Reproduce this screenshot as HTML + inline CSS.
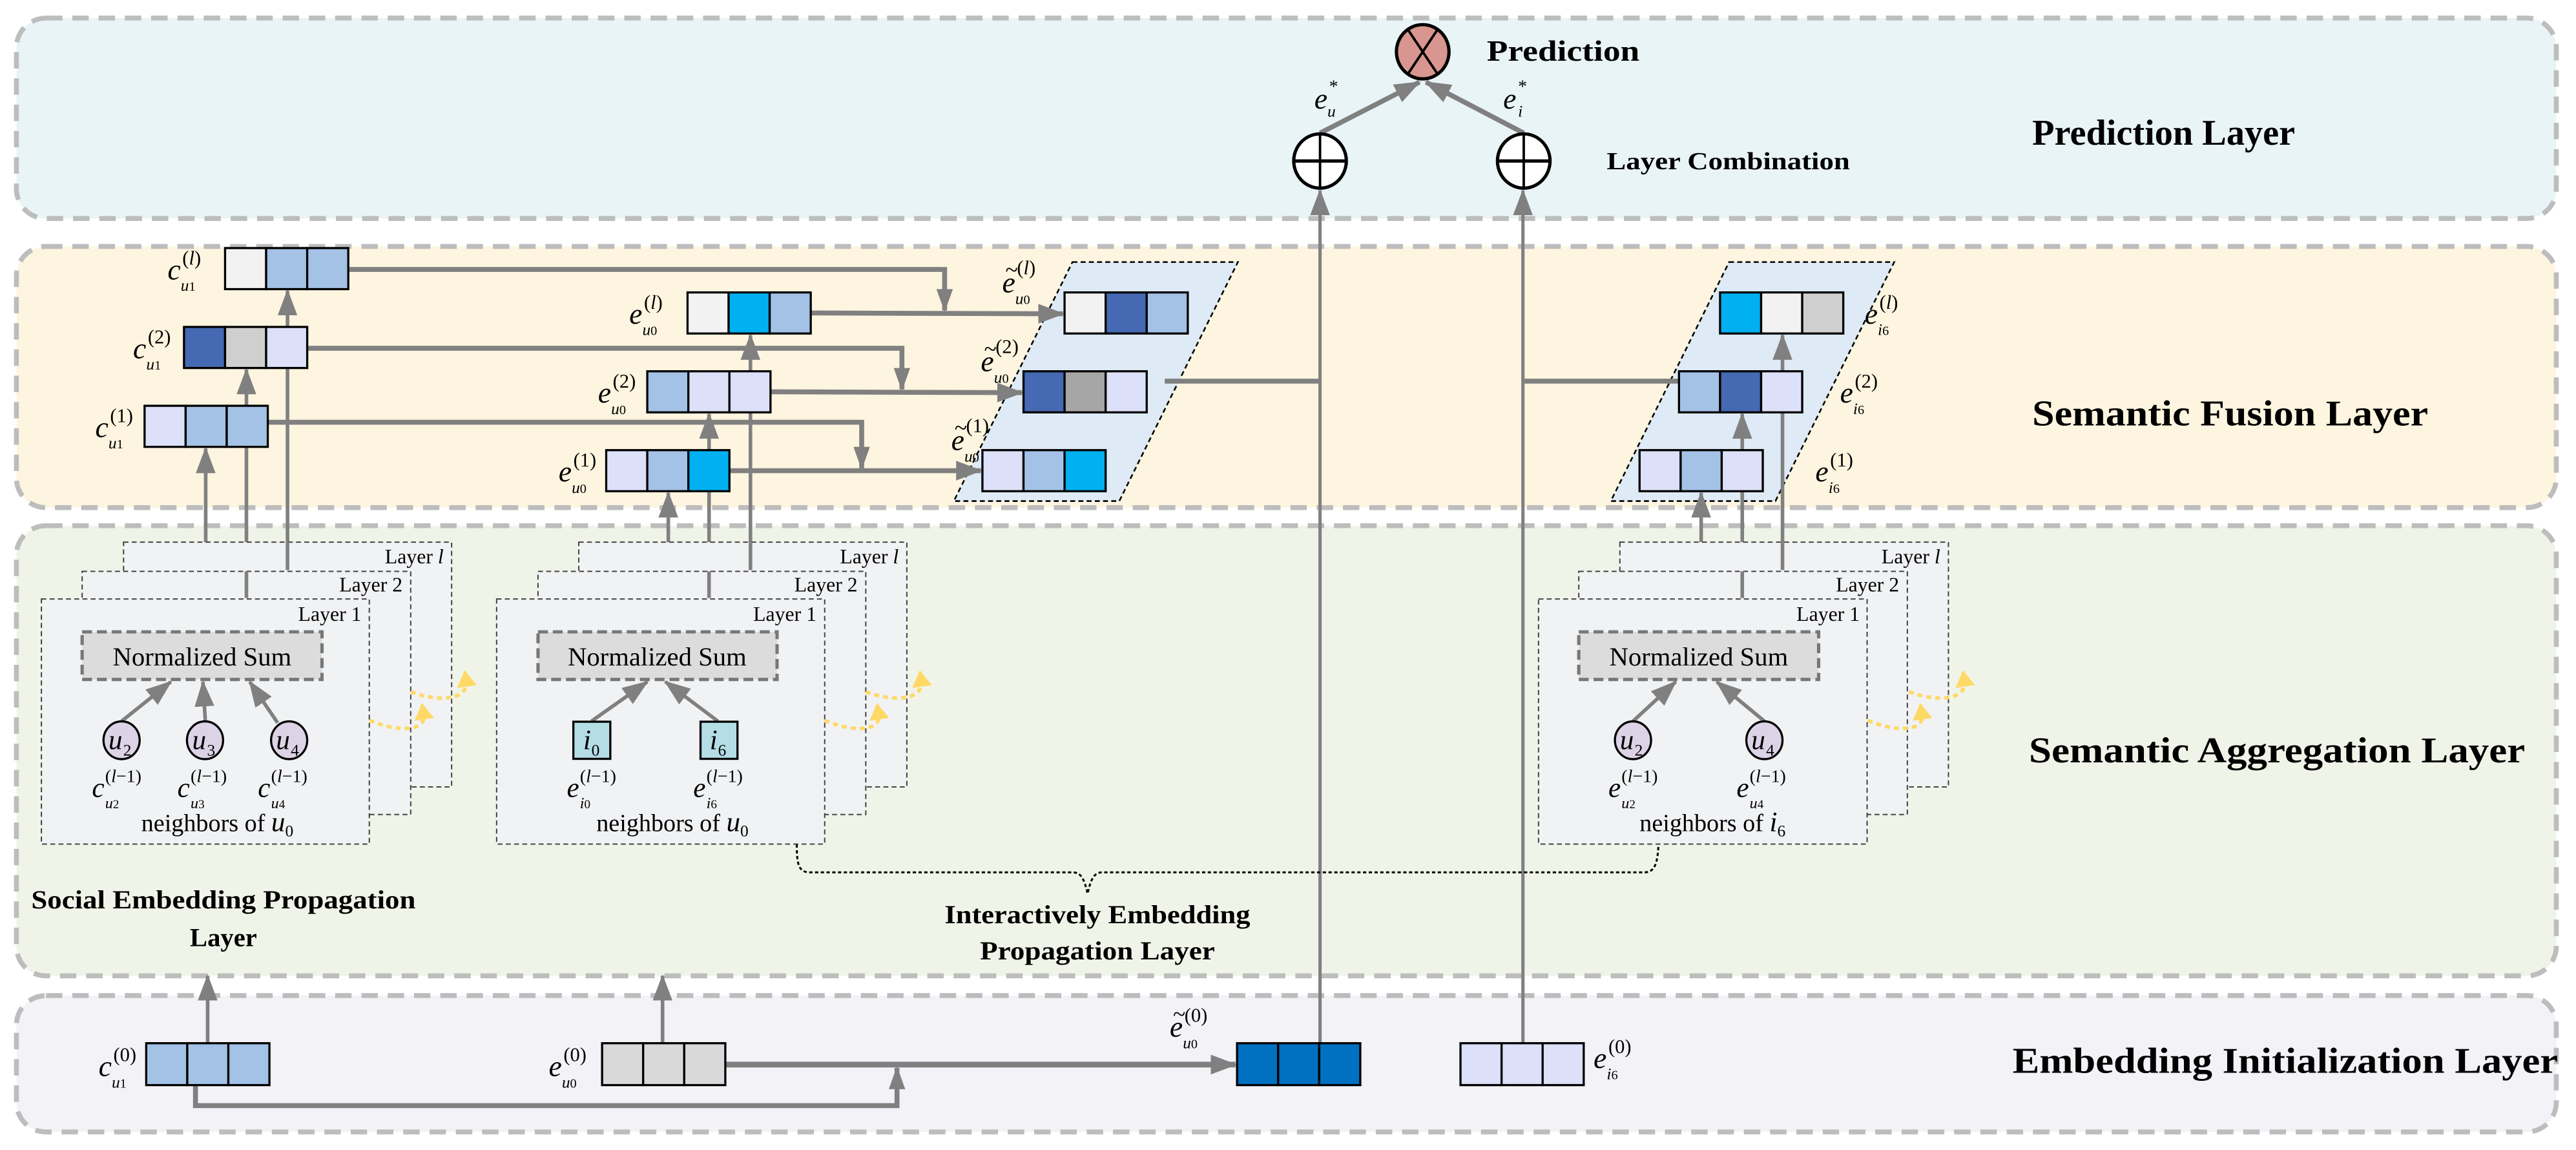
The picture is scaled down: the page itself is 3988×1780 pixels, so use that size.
<!DOCTYPE html>
<html><head><meta charset="utf-8"><style>
html,body{margin:0;padding:0;background:#fff;}
svg{display:block;}
text{font-family:"Liberation Serif",serif;}
</style></head><body>
<svg width="3988" height="1780" viewBox="0 0 1568 700" preserveAspectRatio="none" xmlns="http://www.w3.org/2000/svg">
<defs>
<marker id="ah" markerUnits="userSpaceOnUse" markerWidth="16" markerHeight="12" viewBox="0 0 16 12" refX="15" refY="6" orient="auto"><path d="M0,0 L16,6 L0,12 z" fill="#808080"/></marker>
<marker id="ahs" markerUnits="userSpaceOnUse" markerWidth="14" markerHeight="10" viewBox="0 0 14 10" refX="13" refY="5" orient="auto"><path d="M0,0 L14,5 L0,10 z" fill="#808080"/></marker>
<marker id="ay" markerUnits="userSpaceOnUse" markerWidth="10" markerHeight="12" viewBox="0 0 10 12" refX="9" refY="6" orient="auto"><path d="M0,0 L10,6 L0,12 z" fill="#ffd966"/></marker>
</defs>

<g stroke="#bdbdbd" stroke-width="3" stroke-dasharray="10,6">
<rect x="10" y="11" width="1546" height="122" rx="18" fill="#e9f4f7"/>
<rect x="10" y="150" width="1546" height="159" rx="18" fill="#fdf5df"/>
<rect x="10" y="320" width="1546" height="274" rx="18" fill="#f0f4e8"/>
<rect x="10" y="606" width="1546" height="83" rx="18" fill="#f2f2f7"/>
</g>

<g font-weight="bold" font-size="22">
<text x="1237" y="88" textLength="160" lengthAdjust="spacingAndGlyphs">Prediction Layer</text>
<text x="1237" y="259" textLength="241" lengthAdjust="spacingAndGlyphs">Semantic Fusion Layer</text>
<text x="1235" y="464" textLength="302" lengthAdjust="spacingAndGlyphs">Semantic Aggregation Layer</text>
<text x="1225" y="653" textLength="332" lengthAdjust="spacingAndGlyphs">Embedding Initialization Layer</text>
</g>

<g stroke="#808080" stroke-width="3" fill="none">
<line x1="803.5" y1="81" x2="864" y2="50" marker-end="url(#ah)"/>
<line x1="927.5" y1="81" x2="868" y2="50" marker-end="url(#ah)"/>
<line x1="803.5" y1="635" x2="803.5" y2="116" stroke-width="2" marker-end="url(#ah)"/>
<line x1="927" y1="635" x2="927" y2="116" stroke-width="2" marker-end="url(#ah)"/>
</g>
<ellipse cx="866" cy="31.5" rx="16" ry="16.5" fill="#d9958f" stroke="#000" stroke-width="2"/>
<line x1="857" y1="18" x2="875" y2="45" stroke="#000" stroke-width="1.5"/>
<line x1="875" y1="18" x2="857" y2="45" stroke="#000" stroke-width="1.5"/>
<g fill="#fff" stroke="#000" stroke-width="2">
<ellipse cx="803.5" cy="98" rx="16" ry="16.5"/>
<ellipse cx="927.5" cy="98" rx="16" ry="16.5"/>
</g>
<g stroke="#000" stroke-width="1.5">
<line x1="803.5" y1="81.5" x2="803.5" y2="114.5"/><line x1="787.5" y1="98" x2="819.5" y2="98" stroke-width="2"/>
<line x1="927.5" y1="81.5" x2="927.5" y2="114.5"/><line x1="911.5" y1="98" x2="943.5" y2="98" stroke-width="2"/>
</g>
<text x="905" y="37" font-size="18" font-weight="bold" textLength="93" lengthAdjust="spacingAndGlyphs">Prediction</text>
<text x="978" y="103" font-size="15" font-weight="bold" textLength="148" lengthAdjust="spacingAndGlyphs">Layer Combination</text>
<text x="800" y="66" font-size="18" font-style="italic">e</text><text x="809" y="56" font-size="11">*</text><text x="808" y="71" font-size="10" font-style="italic">u</text>
<text x="915" y="66" font-size="18" font-style="italic">e</text><text x="924" y="56" font-size="11">*</text><text x="924" y="71" font-size="10" font-style="italic">i</text>

<polygon points="652.8,159.5 753.5,159.5 681.3,305 580.6,305" fill="#deeaf5" stroke="#000" stroke-width="1" stroke-dasharray="3,2"/>
<polygon points="1052.5,159.5 1153,159.5 1080.7,305 980.5,305" fill="#deeaf5" stroke="#000" stroke-width="1" stroke-dasharray="3,2"/>

<g stroke="#808080" stroke-width="3" fill="none">
<polyline points="212,164 575,164 575,189" marker-end="url(#ahs)"/>
<line x1="493" y1="190.5" x2="647" y2="191" marker-end="url(#ah)"/>
<polyline points="187,212 549,212 549,237" marker-end="url(#ahs)"/>
<line x1="469" y1="238.5" x2="622" y2="239" marker-end="url(#ah)"/>
<polyline points="163,257 524.5,257 524.5,285" marker-end="url(#ahs)"/>
<line x1="444" y1="286.5" x2="597" y2="286.5" marker-end="url(#ah)"/>
<line x1="709" y1="232" x2="803.5" y2="232"/>
<line x1="927" y1="232" x2="1024" y2="232"/>
</g>
<g stroke="#808080" stroke-width="2.2" fill="none">
<line x1="125.2" y1="364.6" x2="125.2" y2="273" marker-end="url(#ah)"/>
<line x1="150" y1="347.8" x2="150" y2="272"/><line x1="150" y1="247" x2="150" y2="225" marker-end="url(#ah)"/>
<line x1="175" y1="330" x2="175" y2="224"/><line x1="175" y1="199" x2="175" y2="177" marker-end="url(#ah)"/>
<line x1="406.8" y1="364.6" x2="406.8" y2="300" marker-end="url(#ah)"/>
<line x1="431.6" y1="347.8" x2="431.6" y2="299"/><line x1="431.6" y1="274" x2="431.6" y2="252" marker-end="url(#ah)"/>
<line x1="456.8" y1="330" x2="456.8" y2="251"/><line x1="456.8" y1="226" x2="456.8" y2="204" marker-end="url(#ah)"/>
<line x1="1035.5" y1="364.6" x2="1035.5" y2="300" marker-end="url(#ah)"/>
<line x1="1060.5" y1="347.8" x2="1060.5" y2="299"/><line x1="1060.5" y1="274" x2="1060.5" y2="252" marker-end="url(#ah)"/>
<line x1="1085" y1="330" x2="1085" y2="251"/><line x1="1085" y1="226" x2="1085" y2="204" marker-end="url(#ah)"/>
</g>

<g stroke="#000" stroke-width="1.3">
<rect x="137" y="151" width="25" height="25" fill="#f2f2f2"/><rect x="162" y="151" width="25" height="25" fill="#a4c2e6"/><rect x="187" y="151" width="25" height="25" fill="#a4c2e6"/>
<rect x="112" y="199" width="25" height="25" fill="#4569b2"/><rect x="137" y="199" width="25" height="25" fill="#cfcfcf"/><rect x="162" y="199" width="25" height="25" fill="#dce0f8"/>
<rect x="88" y="247" width="25" height="25" fill="#dce0f8"/><rect x="113" y="247" width="25" height="25" fill="#a4c2e6"/><rect x="138" y="247" width="25" height="25" fill="#a4c2e6"/>
<rect x="418.5" y="178" width="25" height="25" fill="#f2f2f2"/><rect x="443.5" y="178" width="25" height="25" fill="#00b0f0"/><rect x="468.5" y="178" width="25" height="25" fill="#a4c2e6"/>
<rect x="394" y="226" width="25" height="25" fill="#a4c2e6"/><rect x="419" y="226" width="25" height="25" fill="#dce0f8"/><rect x="444" y="226" width="25" height="25" fill="#dce0f8"/>
<rect x="369" y="274" width="25" height="25" fill="#dce0f8"/><rect x="394" y="274" width="25" height="25" fill="#a4c2e6"/><rect x="419" y="274" width="25" height="25" fill="#00b0f0"/>
<rect x="648" y="178" width="25" height="25" fill="#f2f2f2"/><rect x="673" y="178" width="25" height="25" fill="#4569b2"/><rect x="698" y="178" width="25" height="25" fill="#a4c2e6"/>
<rect x="623" y="226" width="25" height="25" fill="#4569b2"/><rect x="648" y="226" width="25" height="25" fill="#a6a6a6"/><rect x="673" y="226" width="25" height="25" fill="#dce0f8"/>
<rect x="598" y="274" width="25" height="25" fill="#dce0f8"/><rect x="623" y="274" width="25" height="25" fill="#a4c2e6"/><rect x="648" y="274" width="25" height="25" fill="#00b0f0"/>
<rect x="1047" y="178" width="25" height="25" fill="#00b0f0"/><rect x="1072" y="178" width="25" height="25" fill="#f2f2f2"/><rect x="1097" y="178" width="25" height="25" fill="#cfcfcf"/>
<rect x="1022" y="226" width="25" height="25" fill="#a4c2e6"/><rect x="1047" y="226" width="25" height="25" fill="#4569b2"/><rect x="1072" y="226" width="25" height="25" fill="#dce0f8"/>
<rect x="998" y="274" width="25" height="25" fill="#dce0f8"/><rect x="1023" y="274" width="25" height="25" fill="#a4c2e6"/><rect x="1048" y="274" width="25" height="25" fill="#dce0f8"/>
</g>

<g font-size="18" font-style="italic">
<text x="102" y="170">c</text><text x="81" y="218">c</text><text x="58" y="266">c</text>
<text x="383" y="197">e</text><text x="364" y="245">e</text><text x="340" y="293">e</text>
<text x="610" y="178">e</text><text x="597" y="226">e</text><text x="579" y="274">e</text>
<text x="1135" y="197">e</text><text x="1120" y="245">e</text><text x="1105" y="293">e</text>
</g>
<g font-size="12">
<text x="111" y="161">(<tspan font-style="italic">l</tspan>)</text><text x="90" y="209">(2)</text><text x="67" y="257">(1)</text>
<text x="392" y="188">(<tspan font-style="italic">l</tspan>)</text><text x="373" y="236">(2)</text><text x="349" y="284">(1)</text>
<text x="619" y="167">(<tspan font-style="italic">l</tspan>)</text><text x="606" y="215">(2)</text><text x="588" y="263">(1)</text>
<text x="1144" y="188">(<tspan font-style="italic">l</tspan>)</text><text x="1129" y="236">(2)</text><text x="1114" y="284">(1)</text>
</g>
<g font-size="14">
<text x="612" y="169">~</text><text x="599" y="217">~</text><text x="581" y="265">~</text>
</g>
<g font-size="10" font-style="italic">
<text x="110" y="177">u<tspan font-style="normal" font-size="8">1</tspan></text><text x="89" y="225">u<tspan font-style="normal" font-size="8">1</tspan></text><text x="66" y="273">u<tspan font-style="normal" font-size="8">1</tspan></text>
<text x="391" y="204">u<tspan font-style="normal" font-size="8">0</tspan></text><text x="372" y="252">u<tspan font-style="normal" font-size="8">0</tspan></text><text x="348" y="300">u<tspan font-style="normal" font-size="8">0</tspan></text>
<text x="618" y="185">u<tspan font-style="normal" font-size="8">0</tspan></text><text x="605" y="233">u<tspan font-style="normal" font-size="8">0</tspan></text><text x="587" y="281">u<tspan font-style="normal" font-size="8">0</tspan></text>
<text x="1143" y="204">i<tspan font-style="normal" font-size="8">6</tspan></text><text x="1128" y="252">i<tspan font-style="normal" font-size="8">6</tspan></text><text x="1113" y="300">i<tspan font-style="normal" font-size="8">6</tspan></text>
</g>

<g fill="#f1f2f4" stroke="#444" stroke-width="0.8" stroke-dasharray="3,2">
<rect x="75.2" y="330" width="199.7" height="149"/><rect x="50" y="347.8" width="200" height="148"/><rect x="25.2" y="364.6" width="199.6" height="149.2"/>
<rect x="352.3" y="330" width="199.7" height="149"/><rect x="327.5" y="347.8" width="199.5" height="148"/><rect x="302.3" y="364.6" width="199.7" height="149.2"/>
<rect x="986" y="330" width="200" height="149"/><rect x="961" y="347.8" width="200" height="148"/><rect x="936.5" y="364.6" width="200" height="149.2"/>
</g>
<g stroke="#808080" stroke-width="2.2">
<line x1="150" y1="347.8" x2="150" y2="364"/><line x1="175" y1="330" x2="175" y2="347"/>
<line x1="431.6" y1="347.8" x2="431.6" y2="364"/><line x1="456.8" y1="330" x2="456.8" y2="347"/>
<line x1="1060.5" y1="347.8" x2="1060.5" y2="364"/><line x1="1085" y1="330" x2="1085" y2="347"/>
</g>
<g font-size="12.5" text-anchor="end">
<text x="270" y="343">Layer <tspan font-style="italic">l</tspan></text><text x="245" y="360">Layer 2</text><text x="220" y="378">Layer 1</text>
<text x="547" y="343">Layer <tspan font-style="italic">l</tspan></text><text x="522" y="360">Layer 2</text><text x="497" y="378">Layer 1</text>
<text x="1181" y="343">Layer <tspan font-style="italic">l</tspan></text><text x="1156" y="360">Layer 2</text><text x="1132" y="378">Layer 1</text>
</g>
<g fill="#dcdcdc" stroke="#777" stroke-width="2" stroke-dasharray="6,3">
<rect x="50" y="384.6" width="146" height="29"/><rect x="327.5" y="384.6" width="145.5" height="29"/><rect x="961" y="384.6" width="146" height="29"/>
</g>
<g font-size="16" text-anchor="middle">
<text x="123" y="405">Normalized Sum</text><text x="400" y="405">Normalized Sum</text><text x="1034" y="405">Normalized Sum</text>
</g>
<g stroke="#808080" stroke-width="2.2">
<line x1="74" y1="439" x2="104" y2="415" marker-end="url(#ah)"/>
<line x1="125" y1="439" x2="123.5" y2="415" marker-end="url(#ah)"/>
<line x1="169" y1="440" x2="152" y2="415" marker-end="url(#ah)"/>
<line x1="360" y1="439" x2="394" y2="415" marker-end="url(#ah)"/>
<line x1="437" y1="439" x2="405" y2="415" marker-end="url(#ah)"/>
<line x1="994" y1="439" x2="1020" y2="415" marker-end="url(#ah)"/>
<line x1="1074" y1="439" x2="1045" y2="415" marker-end="url(#ah)"/>
</g>
<g fill="#dcd3e6" stroke="#000" stroke-width="1.3">
<ellipse cx="74" cy="450.6" rx="11" ry="11.5"/><ellipse cx="124.8" cy="450.6" rx="11" ry="11.5"/><ellipse cx="176" cy="450.6" rx="11" ry="11.5"/>
<ellipse cx="994" cy="450.6" rx="11" ry="11.5"/><ellipse cx="1074" cy="450.6" rx="11" ry="11.5"/>
</g>
<g fill="#b4dde6" stroke="#000" stroke-width="1.3">
<rect x="349" y="439.3" width="22.5" height="22.6"/><rect x="426.4" y="439.3" width="22.5" height="22.6"/>
</g>
<g font-size="17" font-style="italic">
<text x="66" y="456">u</text><text x="117" y="456">u</text><text x="168" y="456">u</text>
<text x="986" y="456">u</text><text x="1066" y="456">u</text>
<text x="355" y="456">i</text><text x="432" y="456">i</text>
</g>
<g font-size="10">
<text x="75" y="460">2</text><text x="126" y="460">3</text><text x="177" y="460">4</text>
<text x="995" y="460">2</text><text x="1075" y="460">4</text>
<text x="360" y="460">0</text><text x="437" y="460">6</text>
</g>
<g font-size="17" font-style="italic">
<text x="56" y="485">c</text><text x="108" y="485">c</text><text x="157" y="485">c</text>
<text x="345" y="485">e</text><text x="422" y="485">e</text>
<text x="979" y="485">e</text><text x="1057" y="485">e</text>
</g>
<g font-size="11">
<text x="64" y="476">(<tspan font-style="italic">l</tspan>−1)</text><text x="116" y="476">(<tspan font-style="italic">l</tspan>−1)</text><text x="165" y="476">(<tspan font-style="italic">l</tspan>−1)</text>
<text x="353" y="476">(<tspan font-style="italic">l</tspan>−1)</text><text x="430" y="476">(<tspan font-style="italic">l</tspan>−1)</text>
<text x="987" y="476">(<tspan font-style="italic">l</tspan>−1)</text><text x="1065" y="476">(<tspan font-style="italic">l</tspan>−1)</text>
</g>
<g font-size="9.5" font-style="italic">
<text x="64" y="492">u<tspan font-style="normal" font-size="7.5">2</tspan></text><text x="116" y="492">u<tspan font-style="normal" font-size="7.5">3</tspan></text><text x="165" y="492">u<tspan font-style="normal" font-size="7.5">4</tspan></text>
<text x="353" y="492">i<tspan font-style="normal" font-size="7.5">0</tspan></text><text x="430" y="492">i<tspan font-style="normal" font-size="7.5">6</tspan></text>
<text x="987" y="492">u<tspan font-style="normal" font-size="7.5">2</tspan></text><text x="1065" y="492">u<tspan font-style="normal" font-size="7.5">4</tspan></text>
</g>
<g font-size="15">
<text x="86" y="506">neighbors of <tspan font-style="italic" font-size="17">u</tspan><tspan font-size="10" dy="3">0</tspan></text>
<text x="363" y="506">neighbors of <tspan font-style="italic" font-size="17">u</tspan><tspan font-size="10" dy="3">0</tspan></text>
<text x="998" y="506">neighbors of <tspan font-style="italic" font-size="17">i</tspan><tspan font-size="10" dy="3">6</tspan></text>
</g>
<g fill="none" stroke="#ffd966" stroke-width="2.2" stroke-dasharray="3,2.5">
<path d="M225,438.5 C240,445 258,446 258,436 L257,429" marker-end="url(#ay)"/>
<path d="M250,421 C262,426 283,428 284,416 L283,409" marker-end="url(#ay)"/>
<path d="M502,438.5 C517,445 535,446 535,436 L534,429" marker-end="url(#ay)"/>
<path d="M527,421 C539,426 560,428 561,416 L560,409" marker-end="url(#ay)"/>
<path d="M1137,438.5 C1152,445 1170,446 1170,436 L1169,429" marker-end="url(#ay)"/>
<path d="M1162,421 C1174,426 1195,428 1196,416 L1195,409" marker-end="url(#ay)"/>
</g>
<path d="M485,514 C485,526 486,531 493,531 L653,531 C658,531 660,535 662,544 C664,535 666,531 671,531 L1001,531 C1007,531 1009,526 1009.5,514" fill="none" stroke="#000" stroke-width="1.2" stroke-dasharray="2,1.5"/>
<g font-weight="bold" font-size="16" text-anchor="middle">
<text x="136" y="553" textLength="234" lengthAdjust="spacingAndGlyphs">Social Embedding Propagation</text>
<text x="136" y="576">Layer</text>
<text x="668" y="562" textLength="186" lengthAdjust="spacingAndGlyphs">Interactively Embedding</text>
<text x="668" y="584" textLength="143" lengthAdjust="spacingAndGlyphs">Propagation Layer</text>
</g>

<g stroke="#808080" stroke-width="2.2" fill="none">
<line x1="126.4" y1="635" x2="126.4" y2="594" marker-end="url(#ah)"/>
<line x1="403.3" y1="635" x2="403.3" y2="594" marker-end="url(#ah)"/>
<line x1="441" y1="648" x2="752" y2="648" stroke-width="3.5" marker-end="url(#ah)"/>
<polyline points="119,660 119,673 546,673 546,650" stroke-width="3" marker-end="url(#ahs)"/>
</g>
<g stroke="#000" stroke-width="1.3">
<rect x="89" y="635" width="25" height="25.5" fill="#a4c2e6"/><rect x="114" y="635" width="25" height="25.5" fill="#a4c2e6"/><rect x="139" y="635" width="25" height="25.5" fill="#a4c2e6"/>
<rect x="366.5" y="635" width="25" height="25.5" fill="#d9d9d9"/><rect x="391.5" y="635" width="25" height="25.5" fill="#d9d9d9"/><rect x="416.5" y="635" width="25" height="25.5" fill="#d9d9d9"/>
<rect x="753" y="635" width="25" height="25.5" fill="#0070c0"/><rect x="778" y="635" width="25" height="25.5" fill="#0070c0"/><rect x="803" y="635" width="25" height="25.5" fill="#0070c0"/>
<rect x="889" y="635" width="25" height="25.5" fill="#dce0f8"/><rect x="914" y="635" width="25" height="25.5" fill="#dce0f8"/><rect x="939" y="635" width="25" height="25.5" fill="#dce0f8"/>
</g>
<g font-size="18" font-style="italic">
<text x="60" y="655">c</text><text x="334" y="655">e</text><text x="712" y="631">e</text><text x="970" y="650">e</text>
</g>
<text x="714" y="622" font-size="14">~</text>
<g font-size="12">
<text x="69" y="646">(0)</text><text x="343" y="646">(0)</text><text x="721" y="622">(0)</text><text x="979" y="641">(0)</text>
</g>
<g font-size="10" font-style="italic">
<text x="68" y="662">u<tspan font-style="normal" font-size="8">1</tspan></text><text x="342" y="662">u<tspan font-style="normal" font-size="8">0</tspan></text><text x="720" y="638">u<tspan font-style="normal" font-size="8">0</tspan></text><text x="978" y="657">i<tspan font-style="normal" font-size="8">6</tspan></text>
</g>
</svg>
</body></html>
